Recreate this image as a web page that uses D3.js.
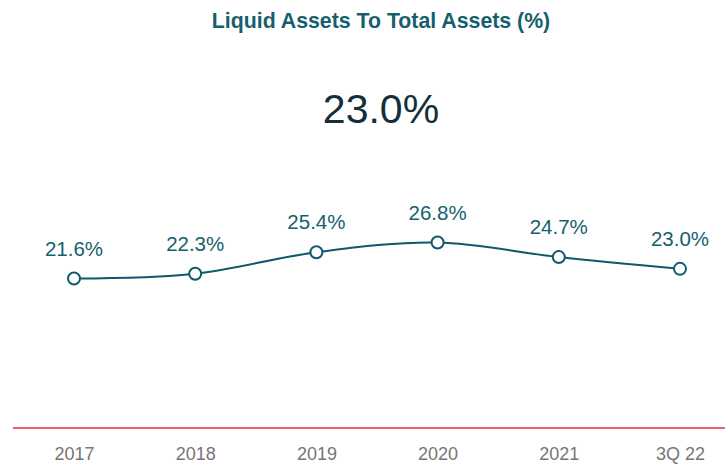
<!DOCTYPE html>
<html><head><meta charset="utf-8">
<script src="https://cdn.jsdelivr.net/npm/d3@7"></script>
<style>html,body{margin:0;padding:0;background:#fff;}svg{display:block;}</style>
</head><body>
<script>
const categories = ["2017","2018","2019","2020","2021","3Q 22"];
const values = [21.6, 22.3, 25.4, 26.8, 24.7, 23.0];
const valueLabels = ["21.6%","22.3%","25.4%","26.8%","24.7%","23.0%"];
const title = "Liquid Assets To Total Assets (%)";
const headline = "23.0%";

const W = 725, H = 464;
const svg = d3.select("body").append("svg").attr("width", W).attr("height", H);
const font = "'Liberation Sans', Arial, sans-serif";
const teal = "#0e5a6b";

const x = d3.scalePoint().domain(categories).range([74, 680]);
const y = d3.scaleLinear().domain([0, 30]).range([428, 220.4]);

svg.append("text").attr("x", 381).attr("y", 28).attr("text-anchor", "middle")
  .attr("font-family", font).attr("font-weight", "bold").attr("font-size", 21.3)
  .attr("fill", "#165f6e").text(title);

svg.append("text").attr("x", 381).attr("y", 123).attr("text-anchor", "middle")
  .attr("font-family", font).attr("font-size", 41)
  .attr("fill", "#13303a").text(headline);

// baseline
svg.append("line").attr("x1", 13).attr("x2", 725).attr("y1", y(0)).attr("y2", y(0))
  .attr("stroke", "#e8332f").attr("stroke-width", 1.3);

// axis labels
const axis = d3.axisBottom(x).tickSize(0).tickPadding(0);
const ag = svg.append("g").attr("transform", `translate(0,${y(0)})`).call(axis);
ag.select(".domain").remove();
ag.selectAll("text").attr("font-family", font).attr("font-size", 18)
  .attr("fill", "#767676").attr("dy", null).attr("y", 32);

const data = categories.map((c, i) => ({c, v: values[i], l: valueLabels[i]}));

const line = d3.line().x(d => x(d.c)).y(d => y(d.v)).curve(d3.curveCatmullRom.alpha(0.5));
svg.append("path").datum(data).attr("d", line).attr("fill", "none")
  .attr("stroke", teal).attr("stroke-width", 2);

svg.selectAll("circle.pt").data(data).enter().append("circle")
  .attr("cx", d => x(d.c)).attr("cy", d => y(d.v)).attr("r", 6)
  .attr("fill", "#fff").attr("stroke", teal).attr("stroke-width", 2);

svg.selectAll("text.lbl").data(data).enter().append("text")
  .attr("x", d => x(d.c)).attr("y", d => y(d.v) - 23)
  .attr("text-anchor", "middle").attr("font-family", font).attr("font-size", 20.5)
  .attr("fill", "#165f6e").text(d => d.l);
</script>
</body></html>
